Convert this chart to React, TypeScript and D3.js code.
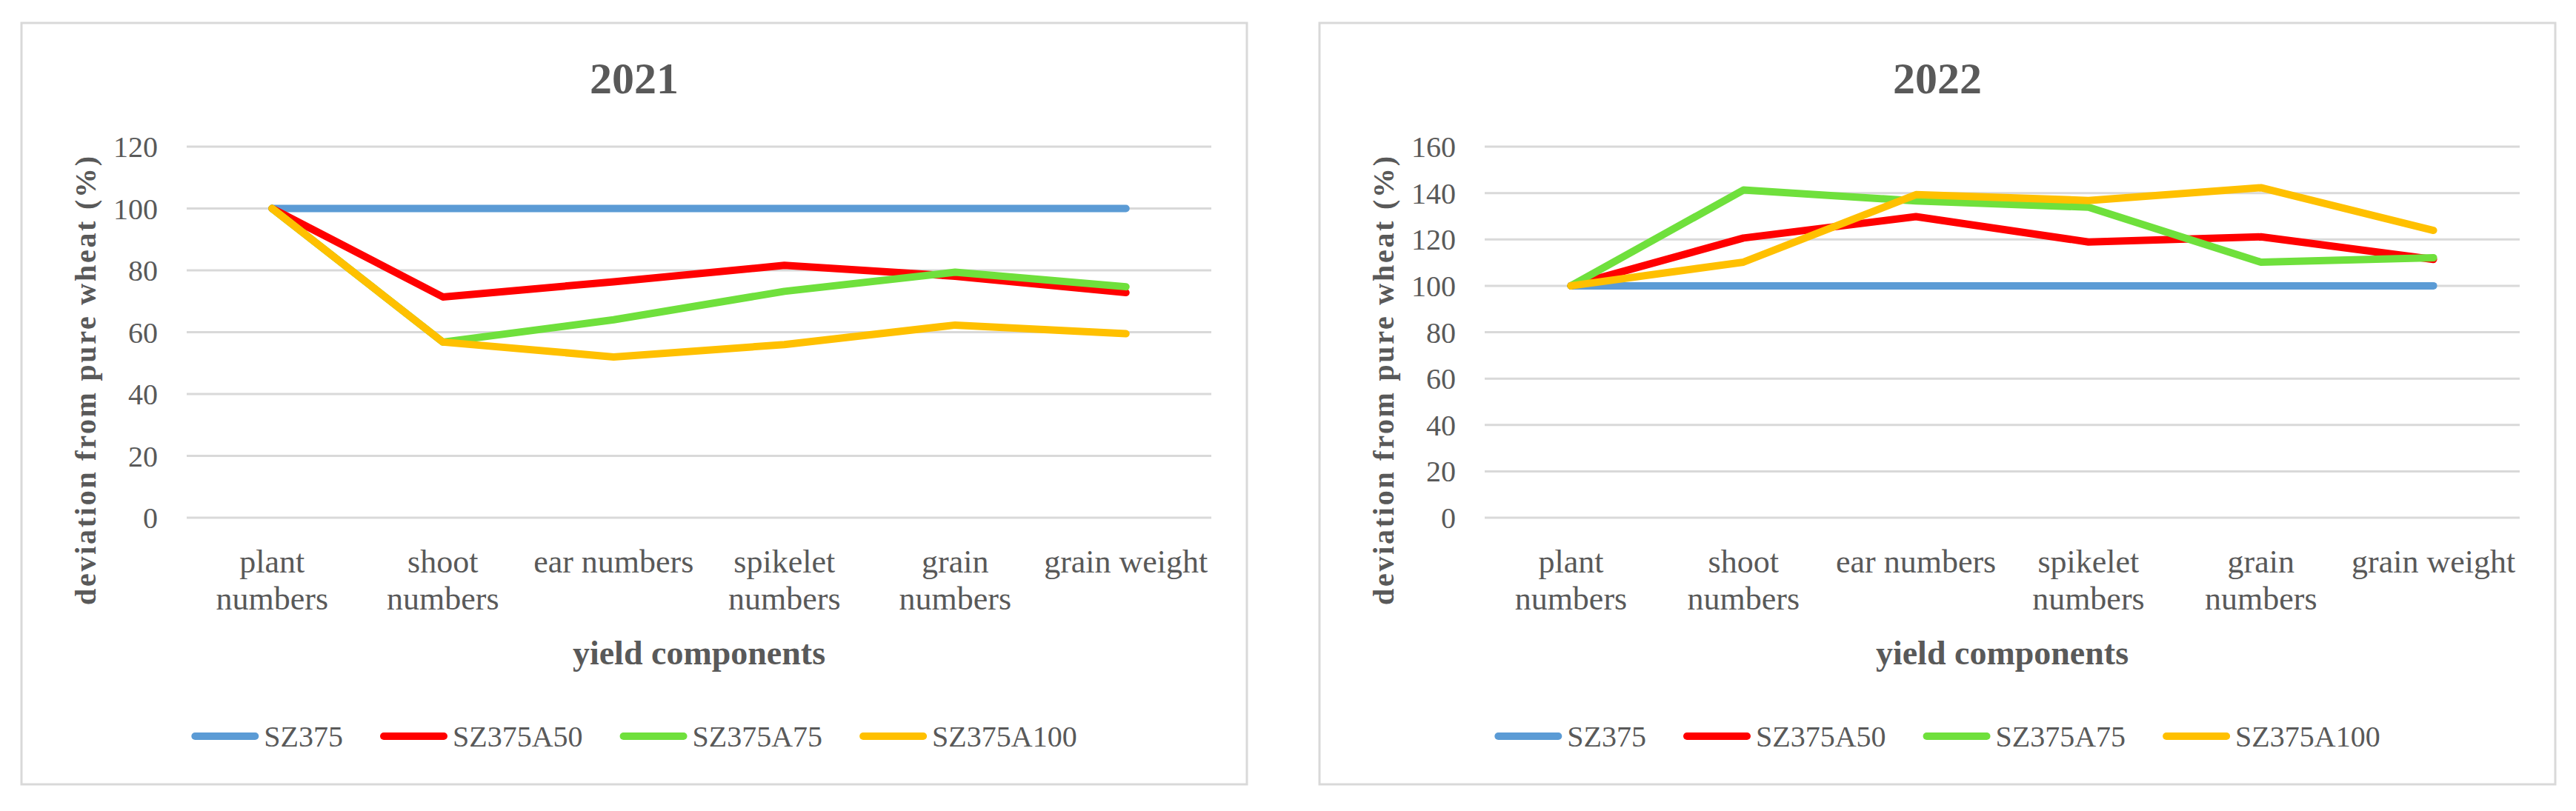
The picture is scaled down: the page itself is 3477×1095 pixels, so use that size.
import React from 'react';
import * as d3 from 'd3';

// yield components on the x axis
const categories = [
  'plant numbers',
  'shoot numbers',
  'ear numbers',
  'spikelet numbers',
  'grain numbers',
  'grain weight',
];

const seriesNames = ['SZ375', 'SZ375A50', 'SZ375A75', 'SZ375A100'];
const seriesColors = ['#5b9bd5', '#ff0000', '#6fe03c', '#ffc000'];

// 2021 — deviation from pure wheat (%)
const sz375_2021 = [100, 100, 100, 100, 100, 100];
const sz375a50_2021 = [100, 71.4, 76.3, 81.6, 78.1, 72.8];
const sz375a75_2021 = [100, 56.8, 64.0, 73.2, 79.4, 74.7];
const sz375a100_2021 = [100, 56.8, 52.0, 56.0, 62.3, 59.5];

// 2022
const sz375_2022 = [100, 100, 100, 100, 100, 100];
const sz375a50_2022 = [100, 120.6, 129.8, 118.9, 121.1, 111.4];
const sz375a75_2022 = [100, 141.3, 136.6, 133.9, 110.2, 112.1];
const sz375a100_2022 = [100, 110.2, 139.3, 136.8, 142.3, 123.9];

const ticks2021 = [0, 20, 40, 60, 80, 100, 120];
const ticks2022 = [0, 20, 40, 60, 80, 100, 120, 140, 160];

const W = 3477;
const H = 1095;
const FONT = '"Liberation Serif", "Times New Roman", serif';
const TEXT = '#595959';
const GRID = '#d9d9d9';

let ctx: CanvasRenderingContext2D | null = null;
const measure = (s: string, font: string) => {
  if (!ctx) ctx = document.createElement('canvas').getContext('2d');
  if (!ctx) return s.length * 20;
  ctx.font = font;
  return ctx.measureText(s).width;
};

interface ChartProps {
  x0: number;
  width: number;
  title: string;
  ticks: number[];
  values: number[][];
}

const Chart: React.FC<ChartProps> = ({ x0, width, title, ticks, values }) => {
  const top = 31;
  const bottom = 1059;
  const plotLeft = x0 + 223;
  const plotRight = x0 + width - 48;
  const plotTop = 198;
  const plotBottom = 699;

  const x = d3
    .scaleBand()
    .domain(categories)
    .range([plotLeft, plotRight]);
  const y = d3
    .scaleLinear()
    .domain([0, d3.max(ticks) as number])
    .range([plotBottom, plotTop]);

  const line = d3
    .line<number>()
    .x((_, i) => (x(categories[i]) as number) + x.bandwidth() / 2)
    .y((d) => y(d));

  // legend layout, centred in the chart box
  const legendFont = `40px ${FONT}`;
  const lineLen = 91;
  const gap = 7;
  const itemGap = 50;
  const widths = seriesNames.map((s) => measure(s, legendFont));
  const total =
    seriesNames.length * (lineLen + gap) +
    d3.sum(widths) +
    itemGap * (seriesNames.length - 1);
  let lx = x0 + width / 2 - total / 2;
  const legendItems = seriesNames.map((s, i) => {
    const item = { name: s, color: seriesColors[i], x: lx };
    lx += lineLen + gap + widths[i] + itemGap;
    return item;
  });

  return (
    <g>
      <rect
        x={x0}
        y={top}
        width={width}
        height={bottom - top}
        fill="#fff"
        stroke={GRID}
        strokeWidth={3}
      />
      <text
        x={x0 + width / 2}
        y={126}
        textAnchor="middle"
        fontFamily={FONT}
        fontWeight="bold"
        fontSize={60}
        fill={TEXT}
      >
        {title}
      </text>

      {ticks.map((t) => (
        <g key={t}>
          <line
            x1={plotLeft}
            x2={plotRight}
            y1={y(t)}
            y2={y(t)}
            stroke={GRID}
            strokeWidth={3}
          />
          <text
            x={plotLeft - 39}
            y={y(t)}
            dy="0.35em"
            textAnchor="end"
            fontFamily={FONT}
            fontSize={40}
            fill={TEXT}
          >
            {t}
          </text>
        </g>
      ))}

      {categories.map((c) => {
        const cx = (x(c) as number) + x.bandwidth() / 2;
        const parts = c.length > 12 ? c.split(' ') : [c];
        return (
          <text
            key={c}
            x={cx}
            textAnchor="middle"
            fontFamily={FONT}
            fontSize={44}
            fill={TEXT}
          >
            {parts.map((p, i) => (
              <tspan key={i} x={cx} y={758 + i * 50} dy="0.35em">
                {p}
              </tspan>
            ))}
          </text>
        );
      })}

      {values.map((v, i) => (
        <path
          key={seriesNames[i]}
          d={line(v) as string}
          fill="none"
          stroke={seriesColors[i]}
          strokeWidth={10}
          strokeLinecap="round"
          strokeLinejoin="round"
        />
      ))}

      <text
        transform={`translate(${x0 + 86},514) rotate(-90)`}
        textAnchor="middle"
        dy="0.35em"
        fontFamily={FONT}
        fontWeight="bold"
        fontSize={40}
        fill={TEXT}
        textLength={606}
        lengthAdjust="spacing"
      >
        deviation from pure wheat (%)
      </text>
      <text
        x={(plotLeft + plotRight) / 2}
        y={881}
        dy="0.35em"
        textAnchor="middle"
        fontFamily={FONT}
        fontWeight="bold"
        fontSize={46}
        fill={TEXT}
      >
        yield components
      </text>

      {legendItems.map((it) => (
        <g key={it.name}>
          <line
            x1={it.x + 5}
            x2={it.x + lineLen - 5}
            y1={994}
            y2={994}
            stroke={it.color}
            strokeWidth={10}
            strokeLinecap="round"
          />
          <text
            x={it.x + lineLen + gap}
            y={994}
            dy="0.35em"
            fontFamily={FONT}
            fontSize={40}
            fill={TEXT}
          >
            {it.name}
          </text>
        </g>
      ))}
    </g>
  );
};

export default function App() {
  return (
    <svg
      width={W}
      height={H}
      viewBox={`0 0 ${W} ${H}`}
      style={{ position: 'absolute', left: 0, top: 0, display: 'block', background: '#fff' }}
    >
      <rect width={W} height={H} fill="#fff" />
      <Chart
        x0={29}
        width={1654}
        title="2021"
        ticks={ticks2021}
        values={[sz375_2021, sz375a50_2021, sz375a75_2021, sz375a100_2021]}
      />
      <Chart
        x0={1781}
        width={1668}
        title="2022"
        ticks={ticks2022}
        values={[sz375_2022, sz375a50_2022, sz375a75_2022, sz375a100_2022]}
      />
    </svg>
  );
}
